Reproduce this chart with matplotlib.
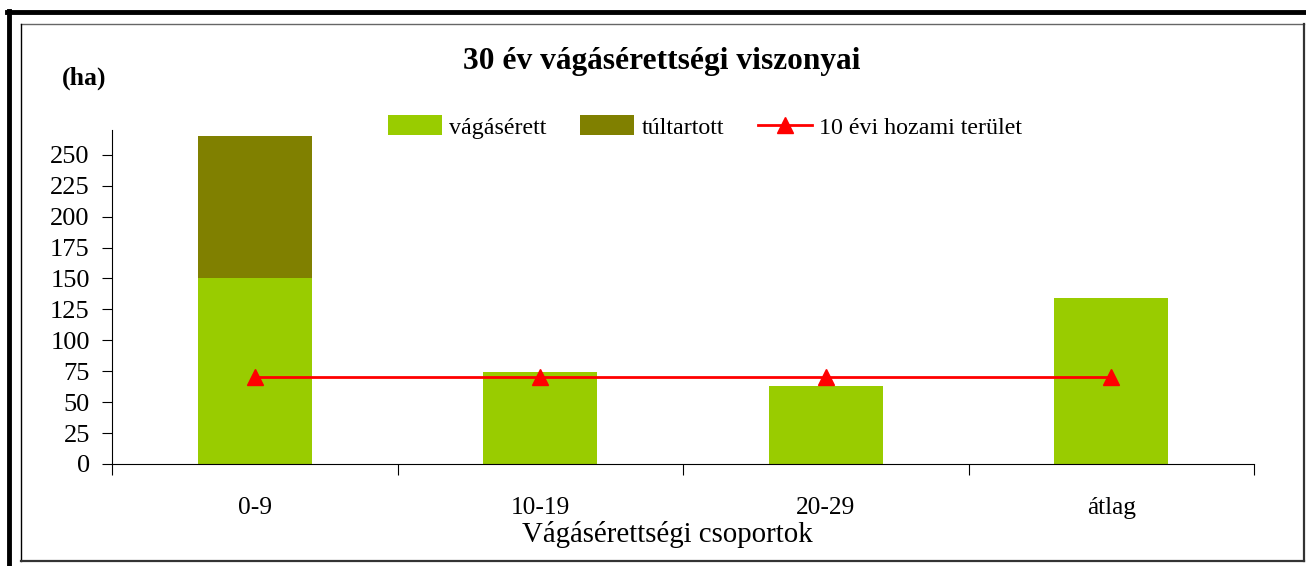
import numpy as np
import matplotlib.pyplot as plt
from matplotlib.lines import Line2D

# Data
categories = ['0-9', '10-19', '20-29', 'átlag']
vagaserett = [150, 74, 63, 134]
tultartott = [115, 0, 0, 0]
hozami = [70, 70, 70, 70]

plt.rcParams['font.family'] = ['Liberation Serif', 'DejaVu Serif']

W, H = 1306, 566
fig = plt.figure(figsize=(W / 100, H / 100), dpi=100)

# axes placed in pixel coords
x0, x1, ytop, ybot = 112, 1254, 130, 464
ax = fig.add_axes([x0 / W, (H - ybot) / H, (x1 - x0) / W, (ybot - ytop) / H])

x = np.arange(len(categories))
b1 = ax.bar(x, vagaserett, width=0.4, color='#99cc00', label='vágásérett', zorder=2)
b2 = ax.bar(x, tultartott, width=0.4, bottom=vagaserett, color='#808000', label='túltartott', zorder=2)
ln, = ax.plot(x, hozami, color='red', lw=2, marker='^', markersize=11, label='10 évi hozami terület', zorder=3)

ax.set_xlim(-0.5, len(categories) - 0.5)
ax.set_ylim(0, 270)
ax.set_yticks(np.arange(0, 251, 25))
ax.set_xticks(np.arange(-0.5, len(categories), 1.0))
ax.set_xticklabels([])
ax.set_xticks(x, minor=True)
ax.set_xticklabels(categories, minor=True)
ax.tick_params(axis='x', which='minor', length=0, pad=24, labelsize=18.3)
ax.tick_params(axis='x', which='major', length=8, direction='out')
ax.tick_params(axis='y', length=7, labelsize=19, pad=9)
for s in ['top', 'right']:
    ax.spines[s].set_visible(False)
ax.set_xlabel('Vágásérettségi csoportok', fontsize=20.8)
ax.xaxis.set_label_coords((667 - x0) / (x1 - x0), -(534 - ybot) / (ybot - ytop))
ax.xaxis.label.set_va('center')

fig.text(662 / W, 1 - 62 / H, '30 év vágásérettségi viszonyai', fontsize=22.6,
         fontweight='bold', ha='center', va='center')
fig.text(84 / W, 1 - 78 / H, '(ha)', fontsize=18.5, fontweight='bold', ha='center', va='center')

fig.legend(handles=[b1, b2, ln], loc='center', bbox_to_anchor=(705 / W, 1 - 127 / H), ncol=3,
           frameon=False, fontsize=17.3, handlelength=2.25, handleheight=0.87,
           columnspacing=1.4, handletextpad=0.29, borderpad=0)

# frame lines
fig.add_artist(Line2D([9 / W, 9 / W], [0, 1 - 11 / H], color='black', lw=3.5))
fig.add_artist(Line2D([7 / W, 1], [1 - 12 / H, 1 - 12 / H], color='black', lw=3.5))
fig.add_artist(Line2D([21 / W, 1304 / W], [1 - 24 / H, 1 - 24 / H], color='#666666', lw=1))
fig.add_artist(Line2D([21 / W, 21 / W], [1 - 24 / H, 1 - 561 / H], color='black', lw=1))
fig.add_artist(Line2D([1304 / W, 1304 / W], [1 - 24 / H, 1 - 561 / H], color='#333333', lw=1.6))
fig.add_artist(Line2D([21 / W, 1304 / W], [1 - 561 / H, 1 - 561 / H], color='#333333', lw=1.6))

fig.savefig('out.png', dpi=100)
